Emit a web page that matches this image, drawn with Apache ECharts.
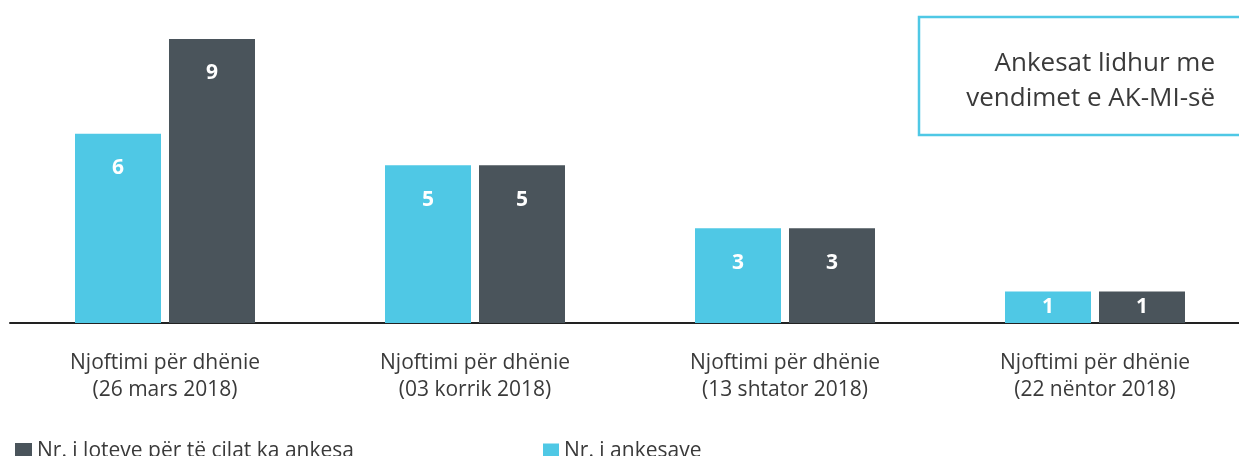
<!DOCTYPE html>
<html>
<head>
<meta charset="utf-8">
<script src="https://cdn.jsdelivr.net/npm/echarts@6/dist/echarts.min.js"></script>
<style>
  html, body { margin: 0; padding: 0; background: #fff; }
  #chart { width: 1239px; height: 456px; }
</style>
</head>
<body>
<div id="chart"></div>
<script>
const categories = [
  'Njoftimi për dhënie\n(26 mars 2018)',
  'Njoftimi për dhënie\n(03 korrik 2018)',
  'Njoftimi për dhënie\n(13 shtator 2018)',
  'Njoftimi për dhënie\n(22 nëntor 2018)'
];
const ankesave = [6, 5, 3, 1];
const loteve = [9, 5, 3, 1];
const titleLines = ['Ankesat lidhur me', 'vendimet e AK-MI-së'];

const CYAN = '#4fc8e5';
const DARK = '#4a545b';
const FONT = '"Open Sans"';

const chart = echarts.init(document.getElementById('chart'));

// small bars get their label centred, taller ones near the top
function withLabels(values) {
  return values.map(v => v < 2
    ? { value: v, label: { position: 'inside' } }
    : { value: v });
}

const barLabel = {
  show: true,
  position: 'insideTop',
  distance: 24,
  color: '#fff',
  fontFamily: FONT,
  fontWeight: 'bold',
  fontSize: 21
};

const legendText = { fontFamily: FONT, fontSize: 21, color: '#3a3a3a', fontWeight: 400 };

const option = {
  animation: false,
  grid: { left: 10, width: 1240, top: 39, bottom: 133, outerBoundsMode: 'none' },
  legend: [
    {
      data: ['Nr. i loteve për të cilat ka ankesa'],
      left: 10, top: 436,
      itemWidth: 17, itemHeight: 17,
      icon: 'rect',
      textStyle: legendText
    },
    {
      data: ['Nr. i ankesave'],
      left: 538, top: 436,
      itemWidth: 16, itemHeight: 16,
      icon: 'rect',
      textStyle: legendText
    }
  ],
  xAxis: {
    type: 'category',
    data: categories,
    axisLine: { lineStyle: { color: '#222', width: 2 } },
    axisTick: { show: false },
    axisLabel: {
      margin: 27,
      fontFamily: FONT,
      fontSize: 21,
      fontWeight: 400,
      lineHeight: 27,
      color: '#3a3a3a'
    }
  },
  yAxis: {
    type: 'value',
    min: 0,
    max: 9,
    show: false,
    splitLine: { show: false }
  },
  graphic: [
    {
      type: 'rect',
      shape: { x: 919, y: 17, width: 330, height: 118 },
      style: { fill: 'none', stroke: CYAN, lineWidth: 2.5 }
    },
    {
      type: 'text',
      x: 1215, y: 81,
      style: {
        text: titleLines.join('\n'),
        align: 'right',
        verticalAlign: 'middle',
        fontFamily: FONT,
        fontWeight: 400,
        fontSize: 26,
        lineHeight: 35,
        fill: '#3a3a3a'
      }
    }
  ],
  series: [
    {
      name: 'Nr. i ankesave',
      type: 'bar',
      data: withLabels(ankesave),
      barWidth: 86,
      barGap: '9.3%',
      itemStyle: { color: CYAN },
      label: barLabel
    },
    {
      name: 'Nr. i loteve për të cilat ka ankesa',
      type: 'bar',
      data: withLabels(loteve),
      barWidth: 86,
      itemStyle: { color: DARK },
      label: barLabel
    }
  ]
};

chart.setOption(option);
</script>
</body>
</html>
